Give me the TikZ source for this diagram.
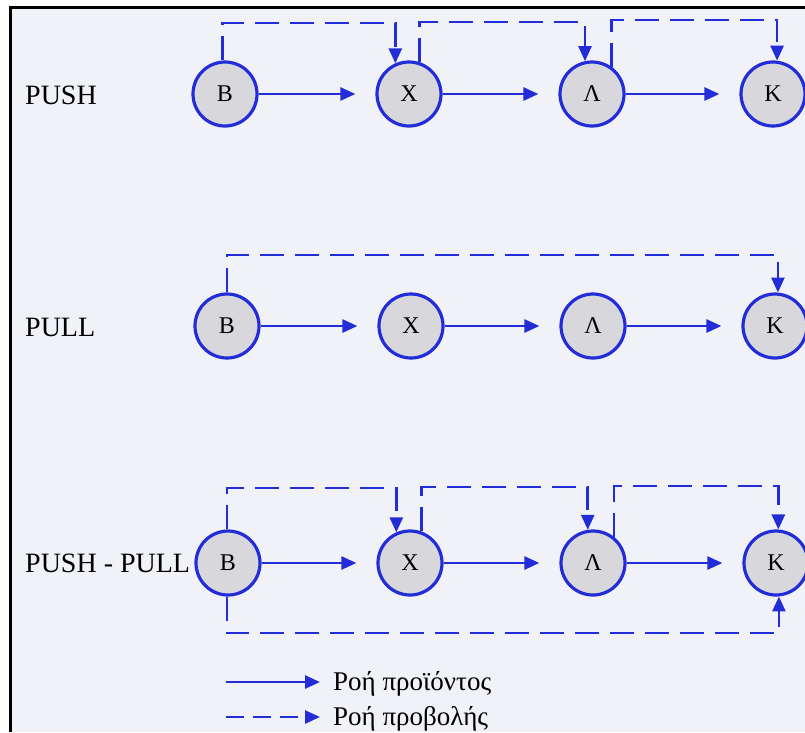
\documentclass[tikz,border=0pt]{standalone}
\usepackage{fontspec}
\setmainfont{Liberation Serif}
\usetikzlibrary{arrows.meta}
\definecolor{lineblue}{RGB}{35,45,215}
\definecolor{nodegray}{RGB}{216,216,220}
\definecolor{bggray}{RGB}{240,242,247}
\begin{document}
\begin{tikzpicture}[x=1pt,y=-1pt,
  stage/.style={circle,draw=lineblue,line width=3.2pt,fill=nodegray,minimum size=64pt,inner sep=0pt,font=\fontsize{24}{24}\selectfont},
  tip/.style={-{Triangle[length=15pt,width=13pt]}},
  flow/.style={draw=lineblue,line width=2.6pt,tip,shorten >=20pt},
  plan/.style={draw=lineblue,line width=2.6pt,dash pattern=on 24pt off 11pt,tip},
  legsolid/.style={draw=lineblue,line width=2.6pt,tip,shorten >=13pt},
  legdash/.style={draw=lineblue,line width=2.6pt,dash pattern=on 18pt off 9pt,tip,shorten >=13pt},
  rowlabel/.style={anchor=base west,font=\fontsize{28}{28}\selectfont,inner sep=0pt},
  legtext/.style={anchor=base west,font=\fontsize{27}{27}\selectfont,inner sep=0pt}]
\useasboundingbox (0,0) rectangle (805,732);
\fill[white] (0,0) rectangle (805,732);
\fill[bggray] (10,7) rectangle (805,732);
\draw[black,line width=3pt] (10,732) -- (10,7) -- (805,7);

% row labels
\node[rowlabel] (lpush) at (25,104) {PUSH};
\node[rowlabel] (lpull) at (25,336) {PULL};
\node[rowlabel] (lpp) at (25,572) {PUSH - PULL};

% row 1
\node[stage] (B1) at (225,94) {Β};
\node[stage] (X1) at (409,94) {Χ};
\node[stage] (L1) at (592,94) {Λ};
\node[stage] (K1) at (773,94) {Κ};
% row 2
\node[stage] (B2) at (227,326) {Β};
\node[stage] (X2) at (411,326) {Χ};
\node[stage] (L2) at (593,326) {Λ};
\node[stage] (K2) at (775,326) {Κ};
% row 3
\node[stage] (B3) at (228,563) {Β};
\node[stage] (X3) at (410,563) {Χ};
\node[stage] (L3) at (593,563) {Λ};
\node[stage] (K3) at (776,563) {Κ};

% levels
\coordinate (h1a) at (0,23);
\coordinate (h1b) at (0,22);
\coordinate (h1c) at (0,20);
\coordinate (h2) at (0,255);
\coordinate (h3a) at (0,488);
\coordinate (h3b) at (0,487);
\coordinate (h3c) at (0,486);
\coordinate (h3d) at (0,633);

% product flow
\foreach \r in {1,2,3}{
  \draw[flow] (B\r) -- (X\r);
  \draw[flow] (X\r) -- (L\r);
  \draw[flow] (L\r) -- (K\r);
}

% row 1 forecast flow
\draw[plan] (B1.94) -- (B1.94 |- h1a) -| (X1.114);
\draw[plan] (X1.72) -- (X1.72 |- h1b) -| (L1.102);
\draw[plan] (L1.54) -- (L1.54 |- h1c) -| (K1.83);
% row 2
\draw[plan] (B2.90) -- (B2.90 |- h2) -| (K2.85);
% row 3
\draw[plan] (B3.92) -- (B3.92 |- h3a) -| (X3.114);
\draw[plan] (X3.70) -- (X3.70 |- h3b) -| (L3.99);
\draw[plan] (L3.51) -- (L3.51 |- h3c) -| (K3.86);
\draw[plan] (B3.268) -- (B3.268 |- h3d) -| (K3.275);

% legend
\coordinate (s1) at (226,682);
\coordinate (s2) at (226,717);
\node[legtext] (lg1) at (333,690) {Ροή προϊόντος};
\node[legtext] (lg2) at (333,725) {Ροή προβολής};
\draw[legsolid] (s1) -- (s1 -| lg1.west);
\draw[legdash] (s2) -- (s2 -| lg2.west);
\end{tikzpicture}
\end{document}
